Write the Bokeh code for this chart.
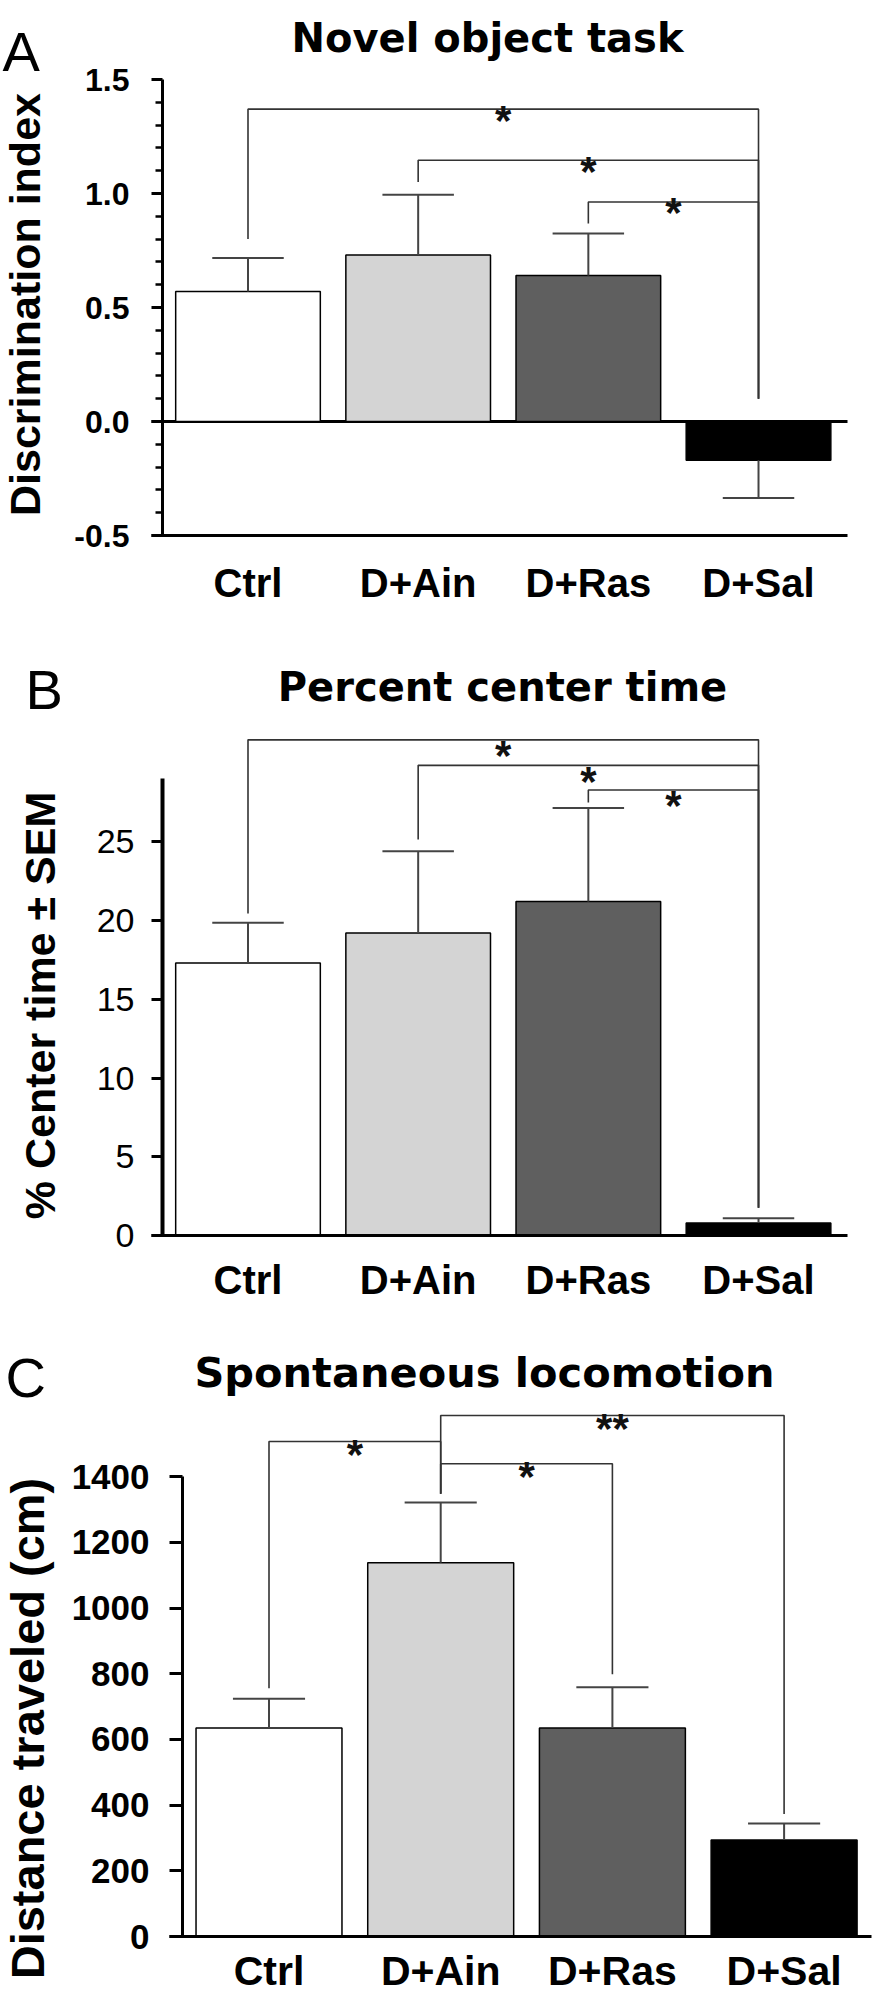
import math
from bokeh.plotting import figure
from bokeh.layouts import column
from bokeh.models import ColumnDataSource, FixedTicker, Label, PrintfTickFormatter, Range1d
from bokeh.core.properties import value
from bokeh.embed import file_html
from bokeh.resources import INLINE

# ---------------- data ----------------
groups = ["Ctrl", "D+Ain", "D+Ras", "D+Sal"]
bar_colors = ["#ffffff", "#d4d4d4", "#5f5f5f", "#000000"]

# Panel A: Novel object task (discrimination index)
novel_mean = [0.57, 0.73, 0.64, -0.17]
novel_sem = [0.147, 0.265, 0.185, 0.165]
novel_ticks = [-0.5, 0.0, 0.5, 1.0, 1.5]
novel_minor = [-0.4, -0.3, -0.2, -0.1, 0.1, 0.2, 0.3, 0.4, 0.6, 0.7, 0.8, 0.9,
               1.1, 1.2, 1.3, 1.4]
# (group i, group j, bracket height, leg bottom at i, leg bottom at j, mark)
novel_brackets = [(0, 3, 1.37, 0.80, 0.10, "*"),
                  (1, 3, 1.146, 1.05, 0.10, "*"),
                  (2, 3, 0.963, 0.868, 0.10, "*")]

# Panel B: Percent center time
center_mean = [17.3, 19.2, 21.2, 0.8]
center_sem = [2.55, 5.2, 5.95, 0.3]
center_ticks = [0, 5, 10, 15, 20, 25]
center_brackets = [(0, 3, 31.47, 20.44, 1.76, "*"),
                   (1, 3, 29.85, 25.15, 1.76, "*"),
                   (2, 3, 28.29, 27.5, 1.76, "*")]

# Panel C: Spontaneous locomotion
loco_mean = [635, 1138, 635, 294]
loco_sem = [89, 183, 124, 50]
loco_ticks = [0, 200, 400, 600, 800, 1000, 1200, 1400]
loco_brackets = [(0, 1, 1507, 756, 1348, "*"),
                 (1, 2, 1439, 1348, 798, "*"),
                 (1, 3, 1586, 1348, 373, "**")]

FIG_W = 872
SANS = "Liberation Sans"
TITLE_FONT = "DejaVu Sans"


def make_panel(cfg, means, sems, brackets, ticks, minor, fmt, ybounds):
    top = cfg["top"]          # figure top, page px
    h = cfg["height"]
    ppx, ppy = cfg["ppx"], cfg["ppy"]
    c0 = cfg["first_center"]  # page x of first bar centre
    z0 = cfg["zero_px"]       # page y of value 0

    def X(px):
        return 1 + (px - c0) / ppx

    def Y(py):
        return (z0 - py) / ppy

    p = figure(width=FIG_W, height=h,
               x_range=Range1d(X(8), X(8 + FIG_W)), y_range=Range1d(Y(top + h), Y(top)),
               min_border=0, min_border_left=0, min_border_right=0,
               min_border_top=0, min_border_bottom=0,
               output_backend="svg", toolbar_location=None)
    p.xgrid.visible = False
    p.ygrid.visible = False
    p.outline_line_color = None
    p.background_fill_color = "white"
    p.border_fill_color = "white"

    xs = [i + 1 for i in range(len(groups))]
    ax0, ax1 = X(cfg["xaxis_px"][0]), X(cfg["xaxis_px"][1])

    if cfg.get("zero_line"):
        p.segment(x0=[ax0], y0=[0], x1=[ax1], y1=[0], line_color="black", line_width=3)

    src = ColumnDataSource(dict(x=xs, top=means, color=bar_colors))
    p.vbar(x="x", top="top", bottom=0, width=0.85, fill_color="color",
           line_color="black", line_width=1.5, source=src)

    ends = [m + s if m >= 0 else m - s for m, s in zip(means, sems)]
    p.segment(x0=xs, y0=means, x1=xs, y1=ends, line_color="#444444", line_width=2)
    p.segment(x0=[x - 0.21 for x in xs], y0=ends, x1=[x + 0.21 for x in xs], y1=ends,
              line_color="#444444", line_width=2)

    bx, by, tx, ty, tt = [], [], [], [], []
    for i, j, hgt, bi, bj, mark in brackets:
        bx.append([xs[i], xs[i], xs[j], xs[j]])
        by.append([bi, hgt, hgt, bj])
        tx.append((xs[i] + xs[j]) / 2)
        ty.append(hgt)
        tt.append(mark)
    p.multi_line(xs=bx, ys=by, line_color="#333333", line_width=1.6)
    p.text(x=tx, y=ty, text=tt, text_font=value(SANS), text_font_style="bold",
           text_font_size="42px", text_align="center", text_baseline="alphabetic",
           y_offset=cfg["star_dy"], text_color="#111111")

    # x axis (fixed at the baseline of the bars)
    xa = p.xaxis[0]
    xa.fixed_location = cfg["xaxis_val"]
    xa.bounds = (ax0, ax1)
    xa.ticker = FixedTicker(ticks=xs)
    xa.major_label_overrides = {x: g for x, g in zip(xs, groups)}
    xa.major_tick_line_color = None
    xa.minor_tick_line_color = None
    xa.axis_line_width = 3
    xa.axis_line_color = "black"
    xa.major_label_text_font = SANS
    xa.major_label_text_font_style = "bold"
    xa.major_label_text_font_size = cfg["xfont"]
    xa.major_label_text_color = "black"
    xa.major_label_standoff = cfg["xstand"]

    # y axis
    ya = p.yaxis[0]
    ya.fixed_location = X(cfg["yaxis_px"])
    ya.ticker = FixedTicker(ticks=ticks, minor_ticks=minor)
    ya.formatter = PrintfTickFormatter(format=fmt)
    ya.bounds = ybounds
    ya.axis_line_width = cfg["ylw"]
    ya.axis_line_color = "black"
    ya.major_tick_line_width = 3
    ya.major_tick_line_color = "black"
    ya.major_tick_out = cfg["tick"]
    ya.major_tick_in = 0
    ya.minor_tick_line_width = 2.5
    ya.minor_tick_line_color = "black"
    ya.minor_tick_out = 7
    ya.minor_tick_in = 0
    ya.major_label_text_font = SANS
    ya.major_label_text_font_style = cfg["yfontstyle"]
    ya.major_label_text_font_size = cfg["yfont"]
    ya.major_label_text_color = "black"
    ya.major_label_standoff = cfg["ystand"]

    # panel letter, title, y label
    lx, lby = cfg["letter_pos"]
    p.add_layout(Label(x=X(lx), y=Y(lby), text=cfg["letter"], text_font=SANS,
                       text_font_size="56px", text_align="left",
                       text_baseline="alphabetic", text_color="black"))
    tcx, tby = cfg["title_pos"]
    p.add_layout(Label(x=X(tcx), y=Y(tby), text=cfg["title"], text_font=TITLE_FONT,
                       text_font_style="bold", text_font_size=cfg["tfont"],
                       text_align="center", text_baseline="alphabetic",
                       text_color="black"))
    ycx, ycy = cfg["ylabel_pos"]
    p.add_layout(Label(x=X(ycx), y=Y(ycy), text=cfg["ylabel"], text_font=SANS,
                       text_font_style="bold", text_font_size=cfg["ylfont"],
                       angle=math.pi / 2, text_align="center", text_baseline="middle",
                       text_color="black"))
    return p


cfgA = dict(top=8, height=612, ppx=170.17, ppy=228.0, first_center=255.5, zero_px=429,
            xaxis_px=(159, 855), xaxis_val=-0.5, yaxis_px=170,
            star_dy=11, xfont="40px", xstand=19,
            ylw=3, tick=11, yfontstyle="bold", yfont="32px", ystand=22,
            zero_line=True, letter="A", letter_pos=(10, 59),
            title="Novel object task", title_pos=(495, 45.5), tfont="40px",
            ylabel="Discrimination index", ylabel_pos=(32, 312), ylfont="43px")
cfgB = dict(top=620, height=710, ppx=170.17, ppy=15.75, first_center=255.5, zero_px=1243,
            xaxis_px=(159, 855), xaxis_val=0, yaxis_px=170,
            star_dy=16, xfont="40px", xstand=16,
            ylw=4, tick=11, yfontstyle="normal", yfont="34px", ystand=17,
            letter="B", letter_pos=(33, 697),
            title="Percent center time", title_pos=(510, 694), tfont="40px",
            ylabel="% Center time \u00b1 SEM", ylabel_pos=(47, 1013), ylfont="43px")
cfgC = dict(top=1330, height=672, ppx=171.7, ppy=0.3285, first_center=276.5, zero_px=1944,
            xaxis_px=(177, 879), xaxis_val=0, yaxis_px=190,
            star_dy=13, xfont="41px", xstand=5,
            ylw=3, tick=13, yfontstyle="bold", yfont="35px", ystand=20,
            letter="C", letter_pos=(13, 1385),
            title="Spontaneous locomotion", title_pos=(492, 1380), tfont="41.5px",
            ylabel="Distance traveled (cm)", ylabel_pos=(35, 1736), ylfont="47px")

pA = make_panel(cfgA, novel_mean, novel_sem, novel_brackets, novel_ticks, novel_minor,
                "%.1f", (-0.5, 1.5))
pB = make_panel(cfgB, center_mean, center_sem, center_brackets, center_ticks, [],
                "%d", (0, 29.0))
pC = make_panel(cfgC, loco_mean, loco_sem, loco_brackets, loco_ticks, [],
                "%d", (0, 1400))

layout = column(pA, pB, pC, spacing=0)
open("out.html", "w").write(file_html(layout, INLINE, title="Figure"))
